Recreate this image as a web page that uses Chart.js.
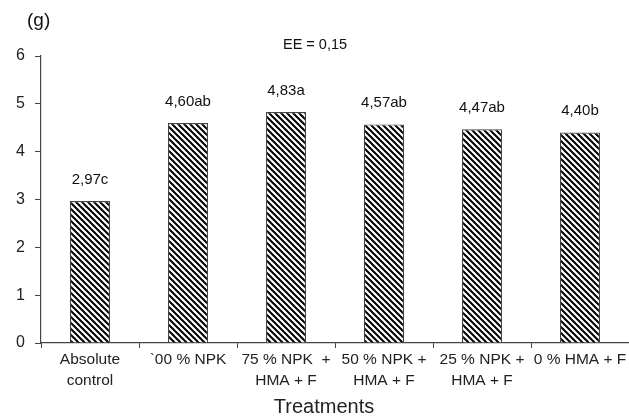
<!DOCTYPE html>
<html>
<head>
<meta charset="utf-8">
<script src="https://cdn.jsdelivr.net/npm/chart.js@4/dist/chart.umd.min.js"></script>
<style>
  html, body { margin: 0; padding: 0; background: #fff; }
  #wrap { width: 629px; height: 417px; position: relative; }
</style>
</head>
<body>
<div id="wrap"><canvas id="chart"></canvas></div>
<script>
const categories = [
  ['Absolute', 'control'],
  '`00 % NPK',
  ['75 % NPK  +', 'HMA + F'],
  ['50 % NPK +', 'HMA + F'],
  ['25 % NPK +', 'HMA + F'],
  '0 % HMA + F'
];
const values = [2.97, 4.60, 4.83, 4.57, 4.47, 4.40];
const valueLabels = ['2,97c', '4,60ab', '4,83a', '4,57ab', '4,47ab', '4,40b'];
const yTicks = [0, 1, 2, 3, 4, 5, 6];

const FONT = '"Liberation Sans", Arial, sans-serif';

function hatch() {
  const c = document.createElement('canvas');
  c.width = 6; c.height = 6;
  const g = c.getContext('2d');
  g.fillStyle = '#fff';
  g.fillRect(0, 0, 6, 6);
  g.strokeStyle = '#000';
  g.lineWidth = 2;
  g.beginPath();
  g.moveTo(-1, -1); g.lineTo(7, 7);
  g.moveTo(-1, 5); g.lineTo(1, 7);
  g.moveTo(5, -1); g.lineTo(7, 1);
  g.stroke();
  return g.createPattern(c, 'repeat');
}

// labels above bars, the "(g)" unit, the EE note and the axis title
const notes = {
  id: 'notes',
  afterDatasetsDraw(chart) {
    const ctx = chart.ctx;
    const meta = chart.getDatasetMeta(0);
    ctx.save();
    ctx.fillStyle = '#111';
    ctx.font = '15px ' + FONT;
    ctx.textAlign = 'center';
    ctx.textBaseline = 'bottom';
    meta.data.forEach((bar, i) => {
      ctx.fillText(valueLabels[i], bar.x, bar.y - 14);
    });
    ctx.textBaseline = 'middle';
    ctx.font = '14.5px ' + FONT;
    ctx.fillText('EE = 0,15', 315, 45);
    ctx.fillStyle = '#222';
    ctx.font = '20px ' + FONT;
    ctx.fillText('Treatments', 324, 407);
    ctx.fillStyle = '#111';
    ctx.font = '19px ' + FONT;
    ctx.textAlign = 'left';
    ctx.fillText('(g)', 27, 21);
    ctx.restore();
  }
};

new Chart(document.getElementById('chart'), {
  type: 'bar',
  data: {
    labels: categories,
    datasets: [{
      data: values,
      backgroundColor: hatch(),
      borderColor: '#444',
      borderWidth: 1.2,
      barPercentage: 0.41,
      categoryPercentage: 1
    }]
  },
  options: {
    responsive: true, maintainAspectRatio: false,
    animation: false,
    layout: { padding: { top: 56, right: 0, left: 0, bottom: 0 } },
    plugins: { legend: { display: false }, tooltip: { enabled: false } },
    scales: {
      x: {
        grid: { offset: true, drawOnChartArea: false, color: '#444', tickLength: 5 },
        border: { color: '#444', width: 1.2 },
        ticks: { color: '#222', font: { family: FONT, size: 15.5, lineHeight: 1.3 }, padding: 2, maxRotation: 0, autoSkip: false },
        afterFit: s => { s.height = 74; }
      },
      y: {
        min: 0, max: 6,
        afterBuildTicks: s => { s.ticks = yTicks.map(v => ({ value: v })); },
        grid: { drawOnChartArea: false, color: '#444', tickLength: 6 },
        border: { color: '#444', width: 1.2 },
        ticks: { color: '#222', font: { family: FONT, size: 16 }, padding: 10 },
        afterFit: s => { s.width = 41; }
      }
    }
  },
  plugins: [notes]
});
</script>
</body>
</html>
